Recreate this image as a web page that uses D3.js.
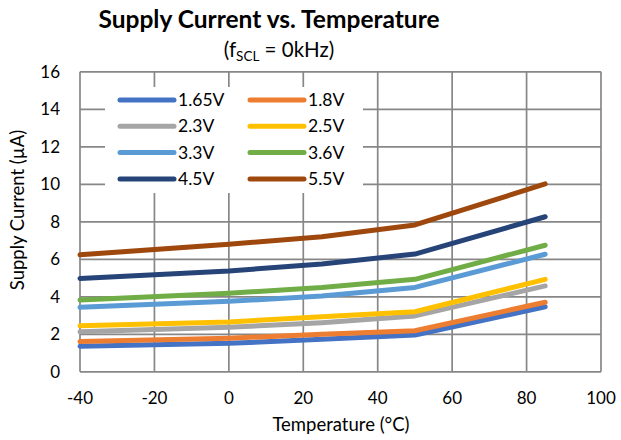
<!DOCTYPE html>
<html>
<head>
<meta charset="utf-8">
<script src="https://cdn.jsdelivr.net/npm/d3@7"></script>
<style>
  body { margin: 0; background: #fff; }
  text { font-family: Lato, "Open Sans", sans-serif; fill: #000; }
</style>
</head>
<body>
<div id="chart"></div>
<script>
// temperatures (°C) where the curves have points
const temps = [-40, 0, 25, 50, 85];

const seriesNames = ["1.65V", "1.8V", "2.3V", "2.5V", "3.3V", "3.6V", "4.5V", "5.5V"];
const seriesColors = ["#4472c4", "#ed7d31", "#a5a5a5", "#ffc000", "#5b9bd5", "#70ad47", "#264478", "#9e480e"];

// supply current (µA), one array per supply voltage
const i165 = [1.36, 1.52, 1.73, 1.96, 3.47];
const i18 = [1.61, 1.79, 2.00, 2.19, 3.71];
const i23 = [2.13, 2.37, 2.62, 2.98, 4.58];
const i25 = [2.45, 2.66, 2.94, 3.20, 4.93];
const i33 = [3.44, 3.76, 4.04, 4.50, 6.27];
const i36 = [3.83, 4.19, 4.49, 4.93, 6.75];
const i45 = [4.98, 5.38, 5.75, 6.28, 8.27];
const i55 = [6.24, 6.80, 7.20, 7.83, 10.02];
const seriesValues = [i165, i18, i23, i25, i33, i36, i45, i55];

const xTicks = [-40, -20, 0, 20, 40, 60, 80, 100];
const yTicks = [0, 2, 4, 6, 8, 10, 12, 14, 16];

const width = 621, height = 440;
const svg = d3.select("#chart").append("svg")
    .attr("width", width)
    .attr("height", height);

const x = d3.scaleLinear().domain([-40, 100]).range([80, 601]);
const y = d3.scaleLinear().domain([0, 16]).range([371.8, 71.8]);
const gridColor = "#878787";

// grid
svg.append("g").selectAll("line").data(yTicks).join("line")
    .attr("x1", x(-40)).attr("x2", x(100))
    .attr("y1", d => y(d)).attr("y2", d => y(d))
    .attr("stroke", gridColor).attr("stroke-width", 1.7);
svg.append("g").selectAll("line").data(xTicks).join("line")
    .attr("x1", d => x(d)).attr("x2", d => x(d))
    .attr("y1", y(0)).attr("y2", y(16))
    .attr("stroke", gridColor).attr("stroke-width", 1.7);

// tick labels
svg.append("g").selectAll("text").data(yTicks).join("text")
    .attr("x", 60).attr("y", d => y(d))
    .attr("dy", "0.35em")
    .attr("text-anchor", "end")
    .attr("font-size", 17)
    .text(d => d);
svg.append("g").selectAll("text").data(xTicks).join("text")
    .attr("x", d => x(d)).attr("y", 398)
    .attr("dy", "0.35em")
    .attr("text-anchor", "middle")
    .attr("font-size", 17)
    .text(d => d);

// legend box (white, hides the grid under it)
const legend = svg.append("g");
legend.append("rect")
    .attr("x", 105).attr("y", 87).attr("width", 258).attr("height", 106)
    .attr("fill", "#fff");
legend.selectAll("g").data(seriesNames).join("g")
    .attr("transform", (d, i) => `translate(${118 + (i % 2) * 130},${100 + Math.floor(i / 2) * 26.3})`)
    .each(function (d, i) {
        const g = d3.select(this);
        g.append("line")
            .attr("x1", 2).attr("x2", 56)
            .attr("stroke", seriesColors[i])
            .attr("stroke-width", 5)
            .attr("stroke-linecap", "round");
        g.append("text")
            .attr("x", 60).attr("dy", "0.35em")
            .attr("font-size", 17.5)
            .text(d);
    });

// series
const line = d3.line()
    .x((d, i) => x(temps[i]))
    .y(d => y(d));
svg.append("g").selectAll("path").data(seriesValues).join("path")
    .attr("d", line)
    .attr("fill", "none")
    .attr("stroke", (d, i) => seriesColors[i])
    .attr("stroke-width", 5)
    .attr("stroke-linecap", "round")
    .attr("stroke-linejoin", "round");

// titles
svg.append("text")
    .attr("x", 269).attr("y", 28)
    .attr("text-anchor", "middle")
    .attr("font-size", 24.5).attr("font-weight", "bold")
    .text("Supply Current vs. Temperature");
const sub = svg.append("text")
    .attr("x", 279).attr("y", 57)
    .attr("text-anchor", "middle")
    .attr("font-size", 20.5);
sub.append("tspan").text("(f");
sub.append("tspan").attr("font-size", 13.5).attr("dy", 4).text("SCL");
sub.append("tspan").attr("dy", -4).text(" = 0kHz)");

svg.append("text")
    .attr("x", 341).attr("y", 431)
    .attr("text-anchor", "middle")
    .attr("font-size", 18.5)
    .text("Temperature (°C)");
svg.append("text")
    .attr("transform", "translate(24,210) rotate(-90)")
    .attr("text-anchor", "middle")
    .attr("font-size", 18.5)
    .text("Supply Current (µA)");
</script>
</body>
</html>
